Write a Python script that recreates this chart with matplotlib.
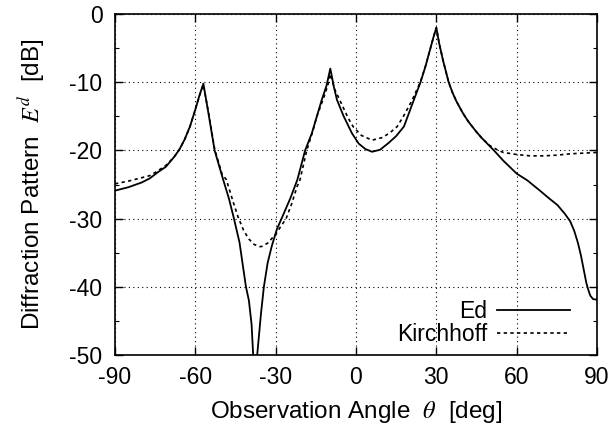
import matplotlib
matplotlib.use("Agg")
import matplotlib.pyplot as plt
from matplotlib.ticker import MultipleLocator

plt.rcParams['font.family'] = ['Liberation Sans', 'DejaVu Sans']
plt.rcParams['mathtext.fontset'] = 'stix'
plt.rcParams['axes.unicode_minus'] = False

# Ed curve (angle in deg, pattern in dB)
ed_angle = [-90, -85, -80, -77, -74, -71, -68, -66, -64, -62, -60, -58.5, -57,
            -55, -52.8, -49.6, -47.5, -45.7, -43.5, -41.1, -40, -39, -38.4, -37.6,
            -36.9, -35.5, -34.4, -33, -31.5, -29.5, -27.8, -24.5, -21.9, -19.0,
            -16.5, -12.8, -11, -9.6,
            -8.2, -7.1, -4.6, -1.5, 1, 3.5, 6, 9, 12.2, 15, 17.9, 19.8, 21.6,
            24.1, 26, 27.6, 29, 30,
            31, 32.5, 34.6, 36, 37.5, 40, 42, 43.4, 45, 47, 51.5, 55, 60, 64, 69, 72, 75.2,
            78, 80, 81.5, 82.9, 84, 84.8, 86, 86.7, 87.5, 88.5, 90]
ed_db = [-25.9, -25.4, -24.7, -24.1, -23.2, -22.4, -21.0, -19.9, -18.4, -16.5, -14.0, -12.0, -10.2,
         -14.8, -20.0, -24.3, -27.0, -29.8, -33.5, -40.0, -42.0, -45.5, -50.0, -58.0,
         -50.0, -44.0, -40.0, -36.5, -34.1, -31.5, -30.0, -27.0, -24.3, -20.0,
         -17.5, -12.6, -10.5, -8.0,
         -10.8, -12.6, -15.0, -17.5, -19.0, -19.8, -20.2, -19.9, -18.9, -17.9, -16.5, -14.5, -12.6,
         -10.0, -7.6, -5.3, -3.3, -2.0,
         -4.2, -6.8, -10.0, -11.5, -12.8, -14.6, -15.8, -16.5, -17.3, -18.2, -20.0, -21.5, -23.4, -24.4, -26.0, -27.0, -28.0,
         -29.3, -30.4, -31.8, -33.6, -35.4, -37.0, -39.4, -40.4, -41.3, -41.8, -41.9]

# Kirchhoff curve
kh_angle = [-90, -85, -80, -77, -74, -71, -68, -66, -64, -62, -60, -58.5, -57,
            -55, -52.8, -50, -48.4, -46, -44, -42, -40, -38, -36, -35.3, -33, -30,
            -28, -26.1, -24, -22, -20.9, -18.4, -16, -14.6, -12, -10.5, -9.6,
            -8, -6.1, -3, -1.1, 2, 6, 10, 13, 15.4, 18, 21, 24, 26, 27.6, 29, 30,
            31, 32.5, 34.6, 36, 37.5, 40, 42, 43.4, 45, 47, 50, 52.7, 55, 60, 65, 70, 75, 80, 85, 90]
kh_db = [-24.9, -24.5, -24.0, -23.7, -23.0, -22.2, -21.0, -19.9, -18.4, -16.5, -14.0, -12.0, -10.4,
         -14.6, -19.8, -23.5, -24.3, -27.4, -29.8, -31.7, -33.0, -33.8, -34.1, -34.1, -33.6, -32.3,
         -31.1, -30.0, -27.8, -25.3, -24.3, -20.0, -17.0, -15.0, -12.2, -10.4, -8.8,
         -11.0, -12.6, -15.2, -16.5, -17.8, -18.5, -18.1, -17.3, -16.5, -14.8, -12.6, -10.0, -7.6, -5.3, -3.3, -2.0,
         -4.2, -6.8, -10.0, -11.5, -12.8, -14.6, -15.8, -16.5, -17.3, -18.2, -19.3, -19.9, -20.3, -20.6, -20.8, -20.8, -20.7, -20.5, -20.4, -20.3]

x_ticks = [-90, -60, -30, 0, 30, 60, 90]
y_ticks = [0, -10, -20, -30, -40, -50]

fig = plt.figure(figsize=(6.12, 4.34), dpi=100)
ax = fig.add_axes([115/612, 79/434, 482/612, 341/434])

ax.plot(ed_angle, ed_db, color='black', lw=1.3, label='Ed')
ax.plot(kh_angle, kh_db, color='black', lw=1.2, linestyle=(0, (2, 2)), label='Kirchhoff')

ax.set_xlim(-90, 90)
ax.set_ylim(-50, 0)
ax.set_xticks(x_ticks)
ax.set_yticks(y_ticks)
ax.yaxis.set_minor_locator(MultipleLocator(5))
ax.tick_params(which='both', direction='in', top=True, right=True, labelsize=16.5, colors='black')
ax.tick_params(which='major', length=5.5, width=1.0)
ax.tick_params(axis='x', which='major', pad=8)
ax.tick_params(axis='y', which='major', pad=9)
ax.tick_params(which='minor', length=3, width=0.8)
ax.grid(True, which='major', color='black', linestyle=(0, (1, 3)), linewidth=0.8)
for s in ax.spines.values():
    s.set_linewidth(1.2)

ax.set_xlabel(r'Observation Angle  $\theta$  [deg]', fontsize=17.5, labelpad=7)
ax.set_ylabel(r'Diffraction Pattern  $E^d$  [dB]', fontsize=17.5, labelpad=16)

ax.legend(loc='lower right', bbox_to_anchor=(0.967, -0.008), frameon=False, markerfirst=False,
          fontsize=16.5, handlelength=3.15, handletextpad=0.45, labelspacing=0.0, borderpad=0)

fig.savefig('out.png', dpi=100)
